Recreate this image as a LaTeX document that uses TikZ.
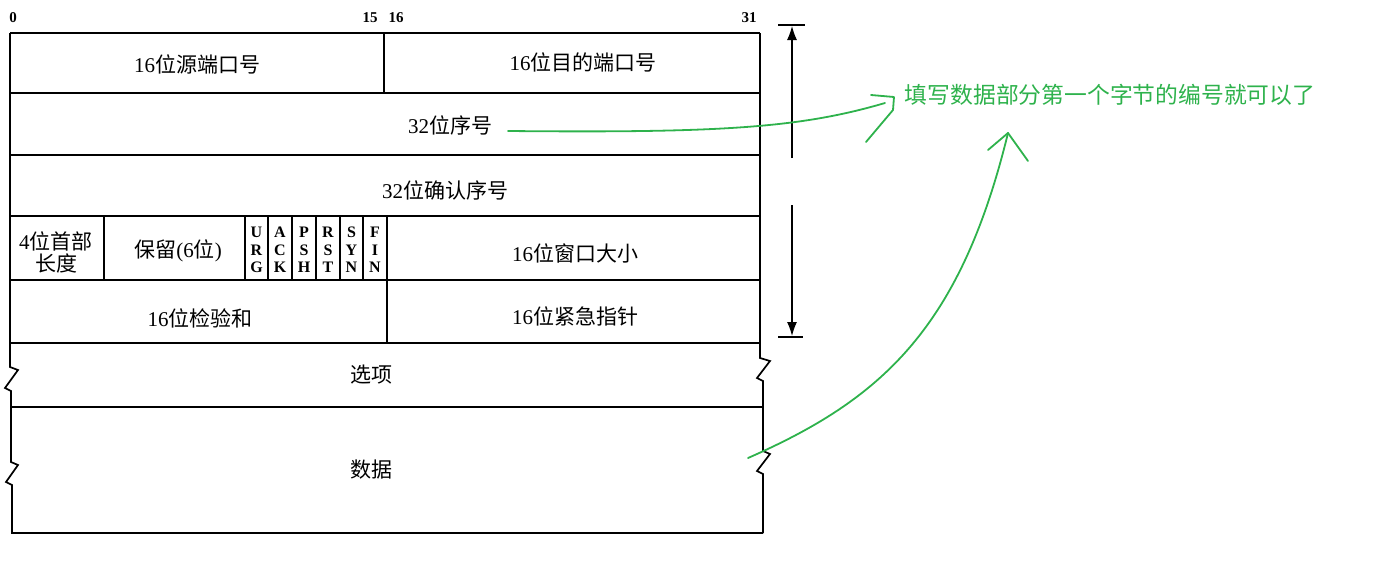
\documentclass[tikz,border=0pt]{standalone}
\usepackage{fontspec}
\setmainfont{Liberation Serif}
\newfontfamily\cjk{Noto Sans CJK SC}
\usetikzlibrary{arrows.meta}
\definecolor{notegreen}{RGB}{46,178,76}
\newcommand{\zh}[1]{{\cjk #1}}
\tikzset{
  field/.style={inner sep=0pt, align=center, font=\fontsize{10.5}{12}\selectfont},
  flagbit/.style={inner sep=0pt, align=center, font=\fontsize{8}{8.8}\selectfont\bfseries},
  bitno/.style={inner sep=0pt, font=\fontsize{7.5}{9}\selectfont\bfseries},
  border/.style={line width=0.85pt},
  dimline/.style={line width=0.6pt},
  note/.style={inner sep=0pt, text=notegreen, font=\cjk\fontsize{11.4}{14}\selectfont},
  pen/.style={notegreen, line width=0.9pt, line cap=round, line join=round}
}

\begin{document}
\begin{tikzpicture}[x=0.5pt, y=-0.5pt]
  \useasboundingbox (0,0) rectangle (1381,562);

  % bit numbers
  \node[bitno] (b0) at (13,18) {0};
  \node[bitno] (b15) at (370,18) {15};
  \node[bitno] (b16) at (396,18) {16};
  \node[bitno] (b31) at (749,18) {31};

  % outer frame with breaks
  \draw[border] (10,33) -- (760,33);
  \draw[border] (10,33) -- (10,367) -- (18,370) -- (5,388) -- (11,391)
    -- (11,462) -- (18,465) -- (6,482) -- (12,485) -- (12,533) -- (763,533);
  \draw[border] (760,33) -- (760,358) -- (770,361) -- (757,378) -- (763,381)
    -- (763,451) -- (770,454) -- (757,471) -- (763,474) -- (763,533);
  \foreach \y in {93,155,216,280,343}
    \draw[border] (10,\y) -- (760,\y);
  \draw[border] (11,407) -- (763,407);

  % column dividers
  \draw[border] (384,33) -- (384,93);
  \draw[border] (387,216) -- (387,343);
  \foreach \x in {104,245,268,292,316,340,363}
    \draw[border] (\x,216) -- (\x,280);

  % fields
  \node[field] (srcport) at (197,64) {16\zh{位源端口号}};
  \node[field] (dstport) at (583,62) {16\zh{位目的端口号}};
  \node[field] (seq) at (450,125) {32\zh{位序号}};
  \node[field] (ack) at (445,190) {32\zh{位确认序号}};
  \node[field] (hlen) at (56,252) {4\zh{位首部}\\[-1pt]\zh{长度}};
  \node[field] (resv) at (178,251) {\zh{保留}(6\zh{位})};
  \foreach \x/\a/\b/\c [count=\i] in {256.5/U/R/G, 280/A/C/K, 304/P/S/H,
      328/R/S/T, 351.5/S/Y/N, 375/F/I/N}
    \node[flagbit] (flag\i) at (\x,250) {\a\\\b\\\c};
  \node[field] (window) at (575,253) {16\zh{位窗口大小}};
  \node[field] (checksum) at (200,318) {16\zh{位检验和}};
  \node[field] (urgent) at (575,316) {16\zh{位紧急指针}};
  \node[field] (options) at (371,375) {\zh{选项}};
  \node[field] (data) at (371,470) {\zh{数据}};

  % header length marker
  \draw[dimline] (778,25) -- (805,25);
  \draw[dimline] (778,337) -- (803,337);
  \draw[dimline, -{Latex[length=7pt, width=5pt]}] (792,158) -- (792,26);
  \draw[dimline, -{Latex[length=7pt, width=5pt]}] (792,205) -- (792,336);

  % note
  \node[note] (note) at (1110,95) {填写数据部分第一个字节的编号就可以了};
  \coordinate (seqtail) at (508,131);
  \coordinate (hook) at (885,103);
  \coordinate (datatail) at (748,458);
  \coordinate (tip) at (1008,133);
  \draw[pen] (seqtail) .. controls (720,133) and (800,128) .. (hook);
  \draw[pen] (871,95) -- (894,97) -- (893,110) -- (866,142);
  \draw[pen] (datatail) .. controls (880,400) and (960,330) .. (tip);
  \draw[pen] (988,150) -- (tip) -- (1028,161);
\end{tikzpicture}
\end{document}
